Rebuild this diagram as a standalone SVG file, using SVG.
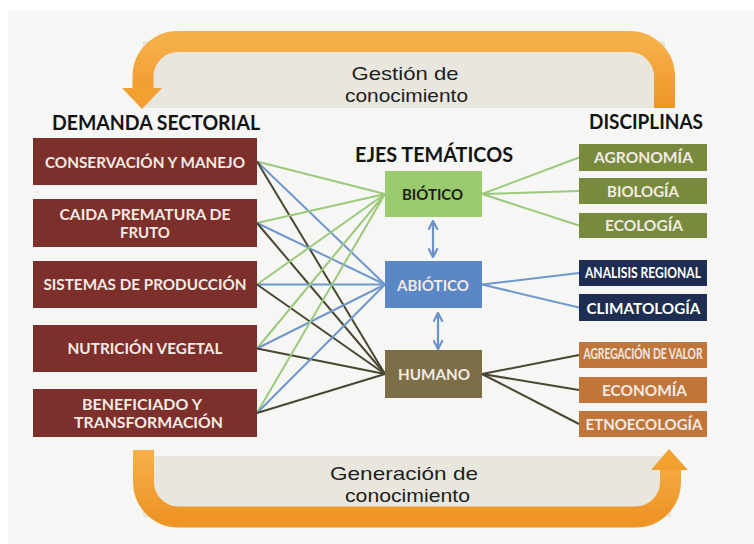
<svg xmlns="http://www.w3.org/2000/svg" width="754" height="544" viewBox="0 0 754 544">
<defs>
<style>
.hdr{font-family:Lato,"Open Sans","Liberation Sans",sans-serif;font-weight:700;fill:#141414;font-size:21px}
.bt{font-family:Lato,"Open Sans","Liberation Sans",sans-serif;font-weight:700;fill:#F3EAE4;font-size:15px;text-anchor:middle}
.dk{fill:#1E1E1E}
.cap{font-family:"Liberation Sans",Arial,sans-serif;fill:#1E1E1E;font-size:19px;text-anchor:middle}
.red{fill:#7C2F2B}
.olv{fill:#788A3E}
.nav{fill:#1D2E52}
.org{fill:#C0763A}
.band{fill:#E8E6DD}
.arr{fill:none;stroke:url(#og);stroke-width:21}
.ah{fill:#F2A030}
.lg{stroke:#9CC97B;stroke-width:2;fill:none}
.lb{stroke:#6F98CD;stroke-width:2;fill:none}
.ld{stroke:#4A4631;stroke-width:2;fill:none}
.dbl{stroke:#6A93C8;stroke-width:2.2;fill:none;marker-start:url(#chev);marker-end:url(#chev)}
</style>
<linearGradient id="og" x1="0" y1="0" x2="0" y2="1">
<stop offset="0" stop-color="#F6B04A"/>
<stop offset="1" stop-color="#EE9526"/>
</linearGradient>
<marker id="chev" viewBox="0 0 10 10" refX="9" refY="5" markerWidth="11" markerHeight="11" markerUnits="userSpaceOnUse" orient="auto-start-reverse">
<path d="M1,0.8 L9,5 L1,9.2" fill="none" stroke="#6A93C8" stroke-width="2"/>
</marker>
</defs>
<rect x="8" y="11" width="746" height="533" fill="#F6F6F4"/>

<g id="gestion">
<rect class="band" x="143" y="41" width="522" height="67"/>
<path class="arr" d="M664.5,108 L664.5,76.5 A35,35 0 0 0 629.5,41.5 L178,41.5 A35,35 0 0 0 143,76.5 L143,89"/>
<polygon class="ah" points="122,88 162,88 142,109"/>
<text class="cap" x="405" y="80" textLength="107" lengthAdjust="spacingAndGlyphs">Gestión de</text>
<text class="cap" x="406.5" y="101.5" textLength="123" lengthAdjust="spacingAndGlyphs">conocimiento</text>
</g>

<g id="generacion">
<rect class="band" x="143" y="456" width="528" height="61"/>
<path class="arr" d="M143.5,450 L143.5,482 A35,35 0 0 0 178.5,517 L635.5,517 A35,35 0 0 0 670.5,482 L670.5,469"/>
<polygon class="ah" points="651,470 688,470 669,449"/>
<text class="cap" x="404" y="480" textLength="148" lengthAdjust="spacingAndGlyphs">Generación de</text>
<text class="cap" x="407.5" y="501.5" textLength="125" lengthAdjust="spacingAndGlyphs">conocimiento</text>
</g>

<text class="hdr" x="52" y="130" textLength="208" lengthAdjust="spacingAndGlyphs">DEMANDA SECTORIAL</text>
<text class="hdr" x="589" y="129" textLength="114" lengthAdjust="spacingAndGlyphs">DISCIPLINAS</text>
<text class="hdr" x="355" y="162" textLength="158" lengthAdjust="spacingAndGlyphs">EJES TEMÁTICOS</text>

<g id="connectors">
<line class="lg" x1="257" y1="161.5" x2="385" y2="194"/>
<line class="lb" x1="257" y1="161.5" x2="385" y2="284.5"/>
<line class="ld" x1="257" y1="161.5" x2="385" y2="374"/>
<line class="lg" x1="257" y1="223" x2="385" y2="194"/>
<line class="lb" x1="257" y1="223" x2="385" y2="284.5"/>
<line class="ld" x1="257" y1="223" x2="385" y2="374"/>
<line class="lg" x1="257" y1="284.5" x2="385" y2="194"/>
<line class="lb" x1="257" y1="284.5" x2="385" y2="284.5"/>
<line class="ld" x1="257" y1="284.5" x2="385" y2="374"/>
<line class="lg" x1="257" y1="348.5" x2="385" y2="194"/>
<line class="lb" x1="257" y1="348.5" x2="385" y2="284.5"/>
<line class="ld" x1="257" y1="348.5" x2="385" y2="374"/>
<line class="lg" x1="257" y1="413" x2="385" y2="194"/>
<line class="lb" x1="257" y1="413" x2="385" y2="284.5"/>
<line class="ld" x1="257" y1="413" x2="385" y2="374"/>
<line class="lg" x1="482" y1="194" x2="579" y2="157.5"/>
<line class="lg" x1="482" y1="194" x2="579" y2="191"/>
<line class="lg" x1="482" y1="194" x2="579" y2="225.5"/>
<line class="lb" x1="482" y1="284.5" x2="579" y2="273"/>
<line class="lb" x1="482" y1="284.5" x2="579" y2="307.5"/>
<line class="ld" x1="482" y1="374" x2="579" y2="355"/>
<line class="ld" x1="482" y1="374" x2="579" y2="390"/>
<line class="ld" x1="482" y1="374" x2="579" y2="424"/>
<line class="dbl" x1="433" y1="221" x2="433" y2="257"/>
<line class="dbl" x1="438" y1="313" x2="438" y2="349"/>
</g>

<g id="d1"><rect class="red" x="33" y="138" width="224" height="47"/><text class="bt" x="145" y="167.5" textLength="200" lengthAdjust="spacingAndGlyphs">CONSERVACIÓN Y MANEJO</text></g>
<g id="d2"><rect class="red" x="33" y="199" width="224" height="48"/><text class="bt" x="145" y="220" textLength="171" lengthAdjust="spacingAndGlyphs">CAIDA PREMATURA DE</text><text class="bt" x="145" y="238">FRUTO</text></g>
<g id="d3"><rect class="red" x="33" y="261" width="224" height="47"/><text class="bt" x="145" y="290" textLength="203" lengthAdjust="spacingAndGlyphs">SISTEMAS DE PRODUCCIÓN</text></g>
<g id="d4"><rect class="red" x="33" y="325" width="224" height="47"/><text class="bt" x="145" y="354" textLength="155" lengthAdjust="spacingAndGlyphs">NUTRICIÓN VEGETAL</text></g>
<g id="d5"><rect class="red" x="33" y="389" width="224" height="48"/><text class="bt" x="142" y="410" textLength="120" lengthAdjust="spacingAndGlyphs">BENEFICIADO Y</text><text class="bt" x="148.5" y="428" textLength="149" lengthAdjust="spacingAndGlyphs">TRANSFORMACIÓN</text></g>

<g id="biotico"><rect x="385" y="171" width="97" height="46" fill="#9ACC6F"/><text class="bt dk" x="432.5" y="200" textLength="61" lengthAdjust="spacingAndGlyphs">BIÓTICO</text></g>
<g id="abiotico"><rect x="385" y="261" width="97" height="47" fill="#5A87C6"/><text class="bt" x="433" y="290.5" font-size="16" textLength="72" lengthAdjust="spacingAndGlyphs">ABIÓTICO</text></g>
<g id="humano"><rect x="385" y="350" width="97" height="48" fill="#7C6E48"/><text class="bt" x="434" y="380" font-size="16" textLength="72" lengthAdjust="spacingAndGlyphs">HUMANO</text></g>

<g id="agronomia"><rect class="olv" x="579" y="144" width="128" height="27"/><text class="bt" x="643.5" y="163" textLength="99" lengthAdjust="spacingAndGlyphs">AGRONOMÍA</text></g>
<g id="biologia"><rect class="olv" x="579" y="178" width="128" height="26"/><text class="bt" x="643" y="196.5" textLength="72" lengthAdjust="spacingAndGlyphs">BIOLOGÍA</text></g>
<g id="ecologia"><rect class="olv" x="579" y="213" width="128" height="25"/><text class="bt" x="644" y="231" textLength="78" lengthAdjust="spacingAndGlyphs">ECOLOGÍA</text></g>
<g id="analisis"><rect class="nav" x="579" y="260" width="128" height="26"/><text class="bt" x="643" y="277.5" font-size="12" style="fill:#FFFFFF" textLength="116" lengthAdjust="spacingAndGlyphs">ANALISIS REGIONAL</text></g>
<g id="climatologia"><rect class="nav" x="579" y="294" width="128" height="27"/><text class="bt" x="643.5" y="313.5" font-size="16" style="fill:#FFFFFF" textLength="114" lengthAdjust="spacingAndGlyphs">CLIMATOLOGÍA</text></g>
<g id="agregacion"><rect class="org" x="579" y="342" width="128" height="26"/><text class="bt" x="643" y="359" font-size="10.5" textLength="119" lengthAdjust="spacingAndGlyphs">AGREGACIÓN DE VALOR</text></g>
<g id="economia"><rect class="org" x="579" y="377" width="128" height="26"/><text class="bt" x="644.5" y="395.5" textLength="85" lengthAdjust="spacingAndGlyphs">ECONOMÍA</text></g>
<g id="etnoecologia"><rect class="org" x="579" y="411" width="128" height="26"/><text class="bt" x="644" y="429.5" textLength="117" lengthAdjust="spacingAndGlyphs">ETNOECOLOGÍA</text></g>
</svg>
